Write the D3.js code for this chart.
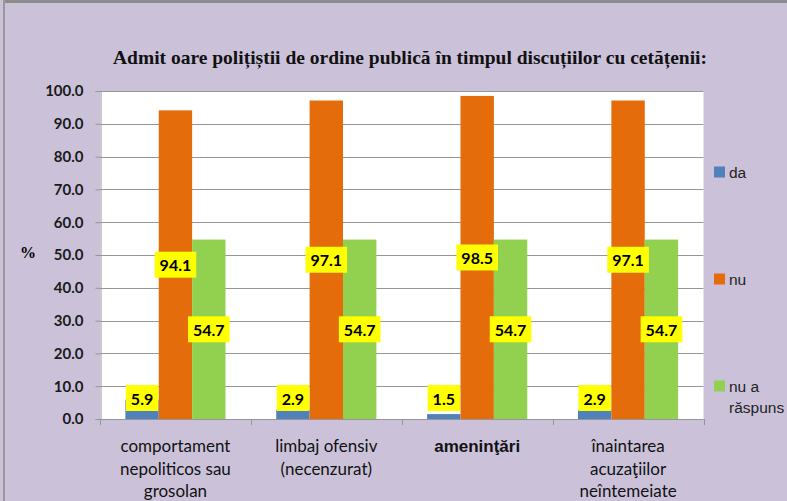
<!DOCTYPE html>
<html>
<head>
<meta charset="utf-8">
<script src="https://cdn.jsdelivr.net/npm/d3@7"></script>
<style>
  body { margin: 0; background: #fff; }
  svg { display: block; }
</style>
</head>
<body>
<div id="chart"></div>
<script>
// values
const categories = ["comportament\nnepoliticos sau\ngrosolan", "limbaj ofensiv\n(necenzurat)", "ameninţări", "înaintarea\nacuzaţiilor\nneîntemeiate"]
const series = ["da", "nu", "nu a\nrăspuns"]
const da = [5.9, 2.9, 1.5, 2.9]
const nu = [94.1, 97.1, 98.5, 97.1]
const nuRaspuns = [54.7, 54.7, 54.7, 54.7]
const yTicks = [0, 10, 20, 30, 40, 50, 60, 70, 80, 90, 100]
const colors = ["#4F81BD", "#E46C0A", "#92D050"]

const W = 787, H = 501
const plot = { left: 100, right: 703.5, top: 91, bottom: 419 }

const svg = d3.select("#chart")
    .append("svg")
    .attr("width", W)
    .attr("height", H)

// background + grey frame at top/left
svg.append("rect").attr("x", 0).attr("y", 0).attr("width", W).attr("height", H).attr("fill", "#CBC2DA")
svg.append("rect").attr("x", 3).attr("y", 0).attr("width", W).attr("height", 3).attr("fill", "#8c8c8c")
svg.append("rect").attr("x", 3).attr("y", 0).attr("width", 2).attr("height", H).attr("fill", "#9a9a9a")

svg.append("text")
    .attr("x", 410)
    .attr("y", 64)
    .attr("text-anchor", "middle")
    .style("font-family", "'Liberation Serif', serif")
    .style("font-weight", "bold")
    .style("font-size", "19.5px")
    .attr("fill", "#111")
    .text("Admit oare polițiștii de ordine publică în timpul discuțiilor cu cetățenii:")

const x0 = d3.scaleBand().domain(categories).range([plot.left, plot.right]).padding(0)
const x1 = d3.scaleBand().domain(series).range([0, x0.bandwidth()]).paddingInner(0).paddingOuter(0.76)
const y = d3.scaleLinear().domain([0, 100]).range([plot.bottom, plot.top])

// plot area
svg.append("rect")
    .attr("x", plot.left).attr("y", plot.top)
    .attr("width", plot.right - plot.left).attr("height", plot.bottom - plot.top)
    .attr("fill", "#fff")

// gridlines
svg.append("g")
    .selectAll("line")
    .data(yTicks.slice(1))
    .enter()
    .append("line")
    .attr("x1", plot.left).attr("x2", plot.right)
    .attr("y1", d => Math.round(y(d)) + 0.5).attr("y2", d => Math.round(y(d)) + 0.5)
    .attr("stroke", "#969696")

// y axis
const yAxis = svg.append("g")
    .attr("transform", `translate(${plot.left + 0.5},0)`)
    .call(d3.axisLeft(y).tickValues(yTicks).tickFormat(d3.format(".1f")).tickSize(5).tickPadding(12))
yAxis.select(".domain").attr("stroke", "#969696")
yAxis.selectAll(".tick line").attr("stroke", "#969696")
yAxis.selectAll(".tick text")
    .style("font-family", "Lato, sans-serif")
    .style("font-weight", "bold")
    .style("font-size", "15px")
    .attr("fill", "#1a1a1a")

svg.append("text")
    .attr("x", 28).attr("y", 258)
    .attr("text-anchor", "middle")
    .style("font-family", "'Liberation Serif', serif")
    .style("font-weight", "bold")
    .style("font-size", "16px")
    .text("%")

// bars
const rows = categories.map((c, i) => ({ cat: c, vals: [da[i], nu[i], nuRaspuns[i]] }))

const groups = svg.append("g")
    .selectAll("g")
    .data(rows)
    .enter()
    .append("g")
    .attr("transform", d => `translate(${x0(d.cat)},0)`)

groups.selectAll("rect")
    .data(d => d.vals.map((v, j) => ({ s: series[j], v: v, j: j })))
    .enter()
    .append("rect")
    .attr("x", d => x1(d.s))
    .attr("y", d => y(d.v))
    .attr("width", x1.bandwidth())
    .attr("height", d => y(0) - y(d.v))
    .attr("fill", d => colors[d.j])

// x axis line and category boundary ticks
svg.append("line")
    .attr("x1", plot.left).attr("x2", plot.right)
    .attr("y1", plot.bottom + 0.5).attr("y2", plot.bottom + 0.5)
    .attr("stroke", "#969696")
svg.append("g")
    .selectAll("line")
    .data(categories.map(c => x0(c)).concat([plot.right]))
    .enter()
    .append("line")
    .attr("x1", d => Math.round(d) + 0.5).attr("x2", d => Math.round(d) + 0.5)
    .attr("y1", plot.bottom).attr("y2", plot.bottom + 6)
    .attr("stroke", "#969696")

// category labels
const catLabels = svg.append("g")
    .selectAll("text")
    .data(categories)
    .enter()
    .append("text")
    .attr("x", d => x0(d) + x0.bandwidth() / 2)
    .attr("y", 452)
    .attr("text-anchor", "middle")
    .style("font-family", (d, i) => i == 2 ? "'Liberation Sans', Arial, sans-serif" : "Lato, sans-serif")
    .style("font-size", "17px")
    .style("font-weight", (d, i) => i == 2 ? "bold" : "normal")
    .attr("fill", "#111")
catLabels.selectAll("tspan")
    .data(d => d.split("\n"))
    .enter()
    .append("tspan")
    .attr("x", function () { return this.parentNode.getAttribute("x") })
    .attr("dy", (d, i) => i == 0 ? 0 : 22.5)
    .text(d => d)

// data labels with yellow boxes
const labels = groups.selectAll("g.lbl")
    .data(d => d.vals.map((v, j) => ({ s: series[j], v: v, j: j })))
    .enter()
    .append("g")
    .attr("class", "lbl")
labels.each(function (d) {
    const g = d3.select(this)
    const cx = x1(d.s) + x1.bandwidth() / 2
    let cy = (y(d.v) + y(0)) / 2
    if (cy > y(0) - 21) cy = y(0) - 21
    const t = g.append("text")
        .attr("x", cx)
        .attr("y", cy)
        .attr("text-anchor", "middle")
        .attr("dominant-baseline", "central")
        .style("font-family", "Lato, sans-serif")
        .style("font-weight", "bold")
        .style("font-size", "16px")
        .attr("fill", "#000")
        .text(d3.format(".1f")(d.v))
    const w = t.node().getComputedTextLength() + 10
    g.insert("rect", "text")
        .attr("x", cx - w / 2)
        .attr("y", cy - 13)
        .attr("width", w)
        .attr("height", 26)
        .attr("fill", "#FFFF00")
})

// legend
const legendY = [172, 279, 386]
const legend = svg.append("g")
    .selectAll("g")
    .data(series)
    .enter()
    .append("g")
    .attr("transform", (d, i) => `translate(714,${legendY[i]})`)
legend.append("rect")
    .attr("x", 0).attr("y", -5.5)
    .attr("width", 11).attr("height", 11)
    .attr("fill", (d, i) => colors[i])
const legText = legend.append("text")
    .attr("x", 15)
    .attr("y", 5.5)
    .style("font-family", "'Liberation Sans', Arial, sans-serif")
    .style("font-size", "15.5px")
    .attr("fill", "#222")
legText.selectAll("tspan")
    .data(d => d.split("\n"))
    .enter()
    .append("tspan")
    .attr("x", 15)
    .attr("dy", (d, i) => i == 0 ? 0 : 21)
    .text(d => d)
</script>
</body>
</html>
